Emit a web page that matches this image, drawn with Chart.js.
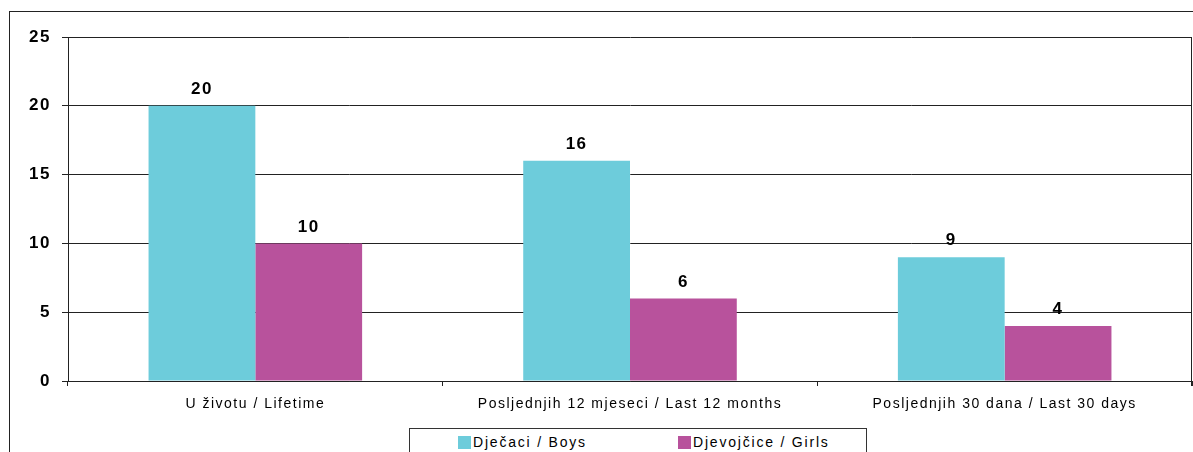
<!DOCTYPE html>
<html>
<head>
<meta charset="utf-8">
<script src="https://cdn.jsdelivr.net/npm/chart.js@4"></script>
<style>
  body { margin: 0; background: #fff; }
  #wrap { position: relative; width: 1193px; height: 452px; overflow: hidden; }
  #legenda {
    position: absolute; left: 409px; top: 428px; width: 456px; height: 40px;
    border: 1px solid #333; background: #fff;
    font: 14px "Liberation Sans", Arial, sans-serif; color: #000; letter-spacing: 1.8px;
  }
  .item { position: absolute; top: 5px; display: flex; align-items: center; }
  .box { width: 13px; height: 13px; margin-right: 2px; }
</style>
</head>
<body>
<div id="wrap">
  <canvas id="grafica" width="1193" height="452"></canvas>
  <div id="legenda"></div>
</div>
<script>
// Datos
const categorias = ["U životu / Lifetime", "Posljednjih 12 mjeseci / Last 12 months", "Posljednjih 30 dana / Last 30 days"];
const djecaci = [20, 16, 9];
const djevojcice = [10, 6, 4];
const nombres = ["Dječaci / Boys", "Djevojčice / Girls"];
const colores = ["#6DCCDB", "#B8529C"];

const fuente = '"Liberation Sans", Arial, sans-serif';

// Marco exterior, borde derecho del area y etiquetas de valores
const extras = {
  id: "extras",
  beforeInit(chart) {
    chart.ctx.letterSpacing = "1.5px";
  },
  beforeDraw(chart) {
    const ctx = chart.ctx;
    ctx.letterSpacing = "1.5px";
    ctx.save();
    ctx.strokeStyle = "#222";
    ctx.lineWidth = 1;
    ctx.strokeRect(9.5, 11.5, 1300, 600);
    ctx.restore();
  },
  afterDatasetsDraw(chart) {
    const ctx = chart.ctx;
    const a = chart.chartArea;
    ctx.save();
    ctx.strokeStyle = "#222";
    ctx.beginPath();
    ctx.moveTo(a.right - 0.5, a.top);
    ctx.lineTo(a.right - 0.5, a.bottom + 5);
    ctx.stroke();
    ctx.font = "bold 17px " + fuente;
    ctx.fillStyle = "#000";
    ctx.textAlign = "center";
    ctx.textBaseline = "bottom";
    chart.data.datasets.forEach((ds, i) => {
      chart.getDatasetMeta(i).data.forEach((bar, j) => {
        ctx.fillText(ds.data[j], bar.x, bar.y - 8);
      });
    });
    ctx.restore();
  }
};

const grafica = new Chart(document.getElementById("grafica"), {
  type: "bar",
  data: {
    labels: categorias,
    datasets: [
      { label: nombres[0], data: djecaci, backgroundColor: colores[0] },
      { label: nombres[1], data: djevojcice, backgroundColor: colores[1] }
    ]
  },
  options: {
    responsive: false,
    animation: false,
    layout: { padding: { top: 37, right: 1, left: 0, bottom: 0 } },
    datasets: { bar: { categoryPercentage: 0.57, barPercentage: 1 } },
    scales: {
      x: {
        afterFit: s => { s.height = 71; },
        grid: { drawOnChartArea: false, tickLength: 5, color: "#222", offset: true },
        border: { color: "#222" },
        ticks: { color: "#000", padding: 10, font: { family: fuente, size: 14 }, maxRotation: 0 }
      },
      y: {
        min: 0, max: 25,
        afterFit: s => { s.width = 68; },
        grid: { color: "#222", tickLength: 6 },
        border: { color: "#222" },
        ticks: { stepSize: 5, color: "#000", padding: 11, font: { family: fuente, size: 17, weight: "bold" } }
      }
    },
    plugins: { legend: { display: false }, tooltip: { enabled: false } }
  },
  plugins: [extras]
});

// Leyenda
const leyenda = document.getElementById("legenda");
const posiciones = [48, 268];
nombres.forEach((n, i) => {
  const d = document.createElement("div");
  d.className = "item";
  d.style.left = posiciones[i] + "px";
  d.innerHTML = `<span class="box" style="background:${colores[i]}"></span>${n}`;
  leyenda.appendChild(d);
});
</script>
</body>
</html>
